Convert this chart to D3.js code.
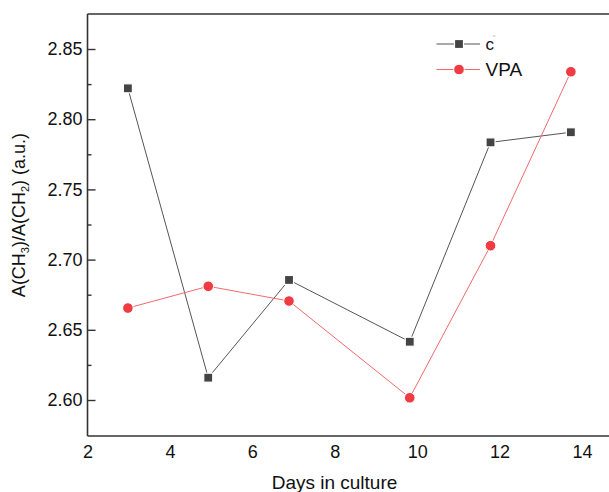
<!DOCTYPE html>
<html><head><meta charset="utf-8">
<script src="https://cdn.jsdelivr.net/npm/d3@7"></script>
<style>
html,body{margin:0;padding:0;background:#fff;}
svg{display:block;font-family:"Liberation Sans",Arial,sans-serif;}
</style></head>
<body><svg id="c" width="609" height="492"></svg>
<script>
const days = [2.98, 4.93, 6.89, 9.82, 11.78, 13.73];
const controlVals = [2.822, 2.6159, 2.6855, 2.6415, 2.7835, 2.7907];
const vpaVals = [2.6655, 2.681, 2.6705, 2.6016, 2.7099, 2.8338];
const xTicks = [2, 4, 6, 8, 10, 12, 14];
const yTicks = [2.60, 2.65, 2.70, 2.75, 2.80, 2.85];
const yMinor = [2.625, 2.675, 2.725, 2.775, 2.825];
const seriesNames = ["c", "VPA"];

const svg = d3.select("#c");
const L = 87.5, R = 609, T = 14, B = 436;
const x = d3.scaleLinear().domain([2, 14]).range([L, 582]);
const y = d3.scaleLinear().domain([2.60, 2.85]).range([400, 49]);
const axisColor = "#333";

// top frame line
svg.append("line").attr("x1", L).attr("x2", R).attr("y1", T).attr("y2", T)
  .attr("stroke", axisColor).attr("stroke-width", 1.6);

// minor y ticks
const gMinor = svg.append("g").attr("transform", `translate(${L},0)`)
  .call(d3.axisLeft(y).tickValues(yMinor).tickSize(-4).tickSizeOuter(0).tickFormat(""));
gMinor.select(".domain").remove();
gMinor.selectAll("line").attr("stroke", axisColor).attr("stroke-width", 1.4);

// y axis
const gy = svg.append("g").attr("transform", `translate(${L},0)`)
  .call(d3.axisLeft(y).tickValues(yTicks).tickSize(-8).tickSizeOuter(0).tickPadding(5)
    .tickFormat(d3.format(".2f")));
gy.select(".domain").attr("d", `M0,${T}V${B}`).attr("stroke", axisColor).attr("stroke-width", 1.6);
gy.selectAll(".tick line").attr("stroke", axisColor).attr("stroke-width", 1.4);
gy.selectAll("text").attr("font-size", 18).attr("fill", "#111")
  .attr("font-family", "'Liberation Sans',Arial,sans-serif");

// x axis
const gx = svg.append("g").attr("transform", `translate(0,${B})`)
  .call(d3.axisBottom(x).tickValues(xTicks).tickSize(0).tickSizeOuter(0).tickPadding(9)
    .tickFormat(d3.format("d")));
gx.select(".domain").attr("d", `M${L},0H${R}`).attr("stroke", axisColor).attr("stroke-width", 1.6);
gx.selectAll("text").attr("font-size", 18).attr("fill", "#111")
  .attr("font-family", "'Liberation Sans',Arial,sans-serif");

// axis titles
svg.append("text").attr("x", 334.5).attr("y", 489).attr("text-anchor", "middle")
  .attr("font-size", 19).attr("fill", "#111").text("Days in culture");

const yt = svg.append("text").attr("transform", "translate(24.5,215) rotate(-90)")
  .attr("text-anchor", "middle").attr("font-size", 18).attr("fill", "#111");
yt.append("tspan").text("A(CH");
yt.append("tspan").attr("font-size", 11).attr("dy", 4).text("3");
yt.append("tspan").attr("dy", -4).text(")/A(CH");
yt.append("tspan").attr("font-size", 11).attr("dy", 4).text("2");
yt.append("tspan").attr("dy", -4).text(") (a.u.)");

// series
const ctrl = days.map((d, i) => [d, controlVals[i]]);
const vpa = days.map((d, i) => [d, vpaVals[i]]);
const line = d3.line().x(d => x(d[0])).y(d => y(d[1]));
const black = "#444", red = "#ef3b42";

svg.append("path").datum(ctrl).attr("d", line).attr("fill", "none")
  .attr("stroke", "#555").attr("stroke-width", 1);
svg.append("path").datum(vpa).attr("d", line).attr("fill", "none")
  .attr("stroke", "#f26a6e").attr("stroke-width", 1);

svg.selectAll(".sq").data(ctrl).enter().append("rect")
  .attr("x", d => x(d[0]) - 4.5).attr("y", d => y(d[1]) - 4.5)
  .attr("width", 9).attr("height", 9).attr("fill", black)
  .attr("stroke", "#fff").attr("stroke-width", 1.2);
svg.selectAll(".ci").data(vpa).enter().append("circle")
  .attr("cx", d => x(d[0])).attr("cy", d => y(d[1])).attr("r", 5.3)
  .attr("fill", red).attr("stroke", "#fff").attr("stroke-width", 1);

// legend
const lg = svg.append("g");
lg.append("line").attr("x1", 436.5).attr("x2", 480).attr("y1", 44).attr("y2", 44)
  .attr("stroke", "#555").attr("stroke-width", 1);
lg.append("rect").attr("x", 459 - 4.5).attr("y", 44 - 4.5).attr("width", 9).attr("height", 9)
  .attr("fill", black).attr("stroke", "#fff").attr("stroke-width", 1.2);
lg.append("text").attr("x", 485.5).attr("y", 49.5).attr("font-size", 17).attr("fill", "#111")
  .text(seriesNames[0]);
lg.append("line").attr("x1", 493).attr("x2", 495.5).attr("y1", 36).attr("y2", 36)
  .attr("stroke", "#aaa").attr("stroke-width", 0.8);
lg.append("line").attr("x1", 436.5).attr("x2", 480).attr("y1", 69.5).attr("y2", 69.5)
  .attr("stroke", "#f26a6e").attr("stroke-width", 1);
lg.append("circle").attr("cx", 459).attr("cy", 69.5).attr("r", 5.3)
  .attr("fill", red).attr("stroke", "#fff").attr("stroke-width", 1);
lg.append("text").attr("x", 485.5).attr("y", 76).attr("font-size", 19).attr("fill", "#111")
  .text(seriesNames[1]);
</script></body></html>
